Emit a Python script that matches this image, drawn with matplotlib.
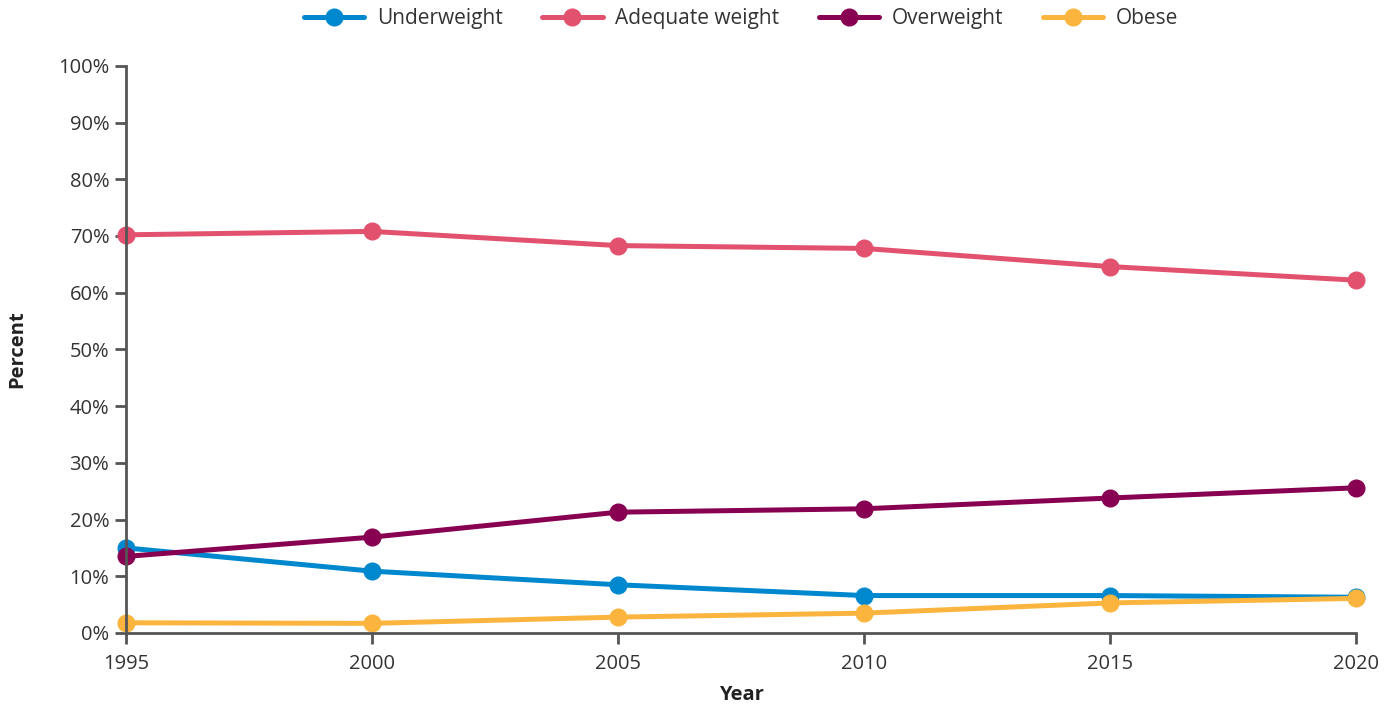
import matplotlib
matplotlib.use("Agg")
import matplotlib.pyplot as plt
from matplotlib.ticker import FuncFormatter

plt.rcParams["font.family"] = ["Open Sans", "DejaVu Sans"]

years = [1995, 2000, 2005, 2010, 2015, 2020]
underweight = [15.0, 10.9, 8.5, 6.6, 6.6, 6.3]
adequate = [70.2, 70.8, 68.3, 67.8, 64.6, 62.2]
overweight = [13.5, 16.9, 21.3, 21.9, 23.8, 25.6]
obese = [1.8, 1.7, 2.8, 3.5, 5.3, 6.1]

series = [
    ("Underweight", underweight, "#0088cf"),
    ("Adequate weight", adequate, "#e2526f"),
    ("Overweight", overweight, "#870052"),
    ("Obese", obese, "#fbb53f"),
]

fig = plt.figure(figsize=(13.98, 7.09), dpi=100)
ax = fig.add_axes([0.0901, 0.1072, 0.880, 0.800])

for name, vals, col in series:
    ax.plot(years, vals, color=col, lw=3.6, marker="o", markersize=12,
            label=name, solid_capstyle="round", clip_on=False)

ax.set_xlim(1995, 2020)
ax.set_ylim(0, 100)
ax.set_xticks(years)
ax.set_yticks(range(0, 101, 10))
ax.yaxis.set_major_formatter(FuncFormatter(lambda v, p: f"{v:.0f}%"))

for s in ["top", "right"]:
    ax.spines[s].set_visible(False)
for s in ["left", "bottom"]:
    ax.spines[s].set_color("#555555")
    ax.spines[s].set_linewidth(2)
ax.tick_params(axis="both", colors="#555555", width=2, length=8,
               labelsize=14.5, labelcolor="#333333", direction="out")
ax.tick_params(axis="x", pad=7)
ax.tick_params(axis="y", pad=4)

ax.set_xlabel("Year", fontsize=14.5, fontweight="bold", color="#222222", labelpad=8)
ax.set_ylabel("Percent", fontsize=14.5, fontweight="bold", color="#222222", labelpad=22)

fig.legend(loc="upper center", bbox_to_anchor=(0.53, 1.015), ncol=4, frameon=False,
           fontsize=15, handlelength=2.9, columnspacing=1.9, handletextpad=0.6,
           labelcolor="#333333")

fig.savefig("out.png", dpi=100)
